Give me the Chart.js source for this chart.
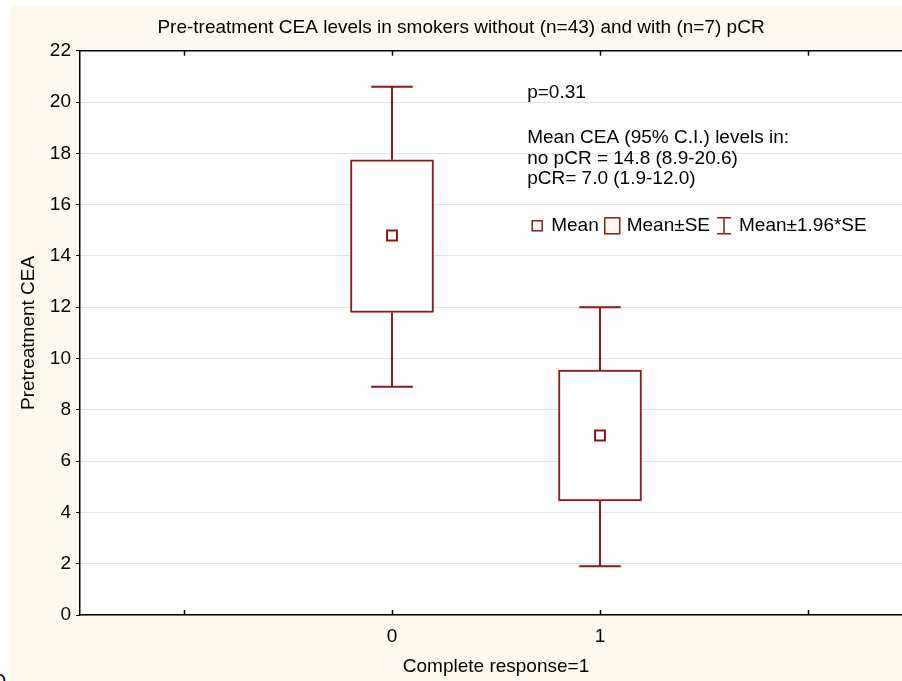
<!DOCTYPE html>
<html lang="en">
<head>
    <meta charset="UTF-8">
    <title>Pre-treatment CEA levels</title>
    <script src="https://cdn.jsdelivr.net/npm/chart.js"></script>
    <style>
        html, body { margin: 0; padding: 0; background: #fff; overflow: hidden; width: 902px; height: 681px; }
        #clip { position: absolute; left: 10px; top: 5px; width: 892px; height: 676px; overflow: hidden; }
        #ceaChart { position: absolute; left: 0; top: 0; }
        #stray { position: absolute; left: -8px; top: 671px; font: 18px Arial, "Liberation Sans", sans-serif; }
    </style>
</head>
<body>
    <div id="clip"><canvas id="ceaChart" width="902" height="676"></canvas></div>
    <span id="stray">O</span>

    <script>
        // Complete response = 0 / 1
        const groups = [0, 1];
        const means = [14.8, 7.0];
        const seLow = [11.8, 4.45];
        const seHigh = [17.75, 9.55];
        const ciLow = [8.9, 1.9];
        const ciHigh = [20.6, 12.0];

        const yTicks = [0, 2, 4, 6, 8, 10, 12, 14, 16, 18, 20, 22];
        const xTicks = [-1, 0, 1, 2];
        const xTickLabels = ['', '0', '1', ''];

        const pText = 'p=0.31';
        const noteLines = ['Mean CEA (95% C.I.) levels in:', 'no pCR = 14.8 (8.9-20.6)', 'pCR= 7.0 (1.9-12.0)'];
        const legendLabels = ['Mean', 'Mean\u00b1SE', 'Mean\u00b11.96*SE'];

        const RED = '#8b1a1a';
        const CREAM = '#fef9ee';
        const CAP = 0.1; // half width of whisker caps (x units)
        const FONT = 'Arial, "Liberation Sans", sans-serif';

        Chart.defaults.font.family = FONT;
        Chart.defaults.font.size = 19;
        Chart.defaults.color = '#000';

        // whisker segments, separated by gaps
        const whiskers = [];
        groups.forEach((g, i) => {
            whiskers.push({x: g, y: seHigh[i]}, {x: g, y: ciHigh[i]}, {x: g, y: null});
            whiskers.push({x: g - CAP, y: ciHigh[i]}, {x: g + CAP, y: ciHigh[i]}, {x: g, y: null});
            whiskers.push({x: g, y: seLow[i]}, {x: g, y: ciLow[i]}, {x: g, y: null});
            whiskers.push({x: g - CAP, y: ciLow[i]}, {x: g + CAP, y: ciLow[i]}, {x: g, y: null});
        });

        // fundo creme + área branca
        const background = {
            id: 'background',
            beforeDraw(chart) {
                const {ctx, chartArea: a} = chart;
                ctx.save();
                ctx.fillStyle = CREAM;
                ctx.fillRect(0, 0, chart.width, chart.height);
                ctx.fillStyle = '#fff';
                ctx.fillRect(a.left, a.top, a.right - a.left, a.bottom - a.top);
                ctx.restore();
            }
        };

        // marcas internas no eixo x (topo e base)
        const innerTicks = {
            id: 'innerTicks',
            afterDraw(chart) {
                const {ctx, chartArea: a} = chart;
                const xs = chart.scales.x;
                ctx.save();
                ctx.strokeStyle = '#000';
                ctx.lineWidth = 1.5;
                xTicks.forEach(v => {
                    const px = Math.round(xs.getPixelForValue(v)) + 0.5;
                    ctx.beginPath();
                    ctx.moveTo(px, a.bottom); ctx.lineTo(px, a.bottom - 5);
                    ctx.moveTo(px, a.top); ctx.lineTo(px, a.top + 5);
                    ctx.stroke();
                });
                ctx.restore();
            }
        };

        // textos e legenda dentro do gráfico
        const notes = {
            id: 'notes',
            afterDraw(chart) {
                const {ctx, chartArea: a} = chart;
                const x0 = chart.scales.x.getPixelForValue(0.65);
                ctx.save();
                ctx.font = '19px ' + FONT;
                ctx.fillStyle = '#000';
                ctx.textBaseline = 'middle';
                ctx.textAlign = 'left';
                ctx.fillText(pText, x0, a.top + 42);
                noteLines.forEach((t, i) => ctx.fillText(t, x0, a.top + 87 + i * 20.5));

                const ly = a.top + 175;
                let x = x0 + 5;
                ctx.strokeStyle = RED;
                ctx.lineWidth = 1.5;
                // Mean
                ctx.fillStyle = '#fff';
                ctx.fillRect(x, ly - 5, 10, 10);
                ctx.strokeRect(x, ly - 5, 10, 10);
                x += 19;
                ctx.fillStyle = '#000';
                ctx.fillText(legendLabels[0], x, ly);
                x += ctx.measureText(legendLabels[0]).width + 6;
                // Mean±SE
                ctx.fillStyle = CREAM;
                ctx.fillRect(x, ly - 8, 15, 16);
                ctx.strokeRect(x, ly - 8, 15, 16);
                x += 22;
                ctx.fillStyle = '#000';
                ctx.fillText(legendLabels[1], x, ly);
                x += ctx.measureText(legendLabels[1]).width + 7;
                // Mean±1.96*SE
                ctx.beginPath();
                ctx.moveTo(x, ly - 8); ctx.lineTo(x + 14, ly - 8);
                ctx.moveTo(x + 7, ly - 8); ctx.lineTo(x + 7, ly + 8);
                ctx.moveTo(x, ly + 8); ctx.lineTo(x + 14, ly + 8);
                ctx.stroke();
                x += 22;
                ctx.fillText(legendLabels[2], x, ly);
                ctx.restore();
            }
        };

        new Chart(document.getElementById('ceaChart'), {
            type: 'bar',
            data: {
                datasets: [
                    {
                        type: 'line',
                        order: 2,
                        data: whiskers,
                        borderColor: RED,
                        borderWidth: 2,
                        pointRadius: 0,
                        spanGaps: false,
                        fill: false
                    },
                    {
                        type: 'bar',
                        order: 1,
                        data: groups.map((g, i) => ({x: g, y: [seLow[i], seHigh[i]]})),
                        backgroundColor: '#fff',
                        borderColor: RED,
                        borderWidth: 2,
                        borderSkipped: false,
                        barThickness: 83
                    },
                    {
                        type: 'scatter',
                        order: 0,
                        data: groups.map((g, i) => ({x: g, y: means[i]})),
                        pointStyle: 'rect',
                        pointRadius: 7,
                        pointBackgroundColor: '#fff',
                        pointBorderColor: RED,
                        pointBorderWidth: 2
                    }
                ]
            },
            options: {
                responsive: false,
                animation: false,
                devicePixelRatio: 1,
                layout: { padding: 0, autoPadding: false },
                plugins: {
                    legend: { display: false },
                    tooltip: { enabled: false },
                    title: {
                        display: true,
                        text: 'Pre-treatment CEA levels in smokers without (n=43) and with (n=7) pCR',
                        font: { size: 19, weight: 'normal' },
                        color: '#000',
                        padding: { top: 11.5, bottom: 11.5 }
                    }
                },
                scales: {
                    x: {
                        type: 'linear',
                        position: 'bottom',
                        min: -1.5,
                        max: 2.5,
                        offset: false,
                        afterBuildTicks: s => { s.ticks = xTicks.map(v => ({value: v})); },
                        afterFit: s => { s.height = 66; },
                        ticks: {
                            padding: 10,
                            maxRotation: 0,
                            callback: (v) => xTickLabels[xTicks.indexOf(v)]
                        },
                        grid: { display: false, drawTicks: false },
                        border: { display: true, color: '#000', width: 1.5 },
                        title: {
                            display: true,
                            text: 'Complete response=1',
                            padding: { top: 0, bottom: 2.5 }
                        }
                    },
                    xTop: {
                        type: 'linear',
                        position: 'top',
                        min: -1.5,
                        max: 2.5,
                        offset: false,
                        afterFit: s => { s.height = 0; },
                        ticks: { display: false },
                        grid: { display: false, drawTicks: false },
                        border: { display: true, color: '#000', width: 1.5 }
                    },
                    y: {
                        min: 0,
                        max: 22,
                        afterBuildTicks: s => { s.ticks = yTicks.map(v => ({value: v})); },
                        afterFit: s => { s.width = 70; },
                        ticks: { padding: 5 },
                        grid: { color: '#c8c8c8', lineWidth: 1, drawTicks: true, tickLength: 4, tickColor: '#000' },
                        border: { display: true, color: '#000', width: 1.5, dash: [1, 1] },
                        title: {
                            display: true,
                            text: 'Pretreatment CEA',
                            padding: { top: 7.5, bottom: 0 }
                        }
                    }
                }
            },
            plugins: [background, innerTicks, notes]
        });
    </script>
</body>
</html>
